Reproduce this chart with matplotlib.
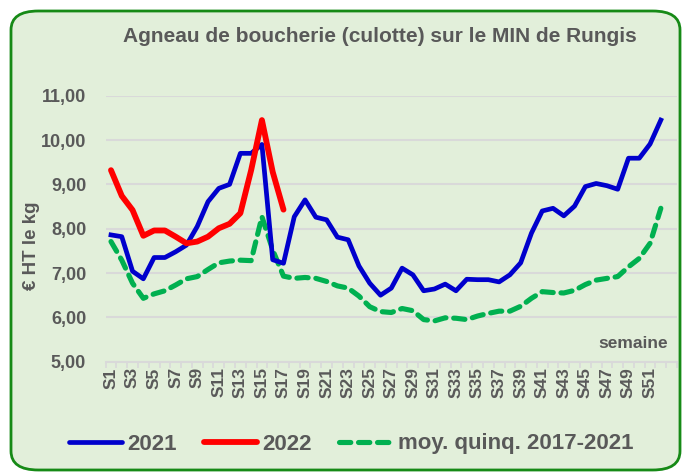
import matplotlib
matplotlib.use("Agg")
import matplotlib.pyplot as plt
from matplotlib.patches import FancyBboxPatch
from matplotlib.lines import Line2D
import numpy as np

plt.rcParams['font.family'] = ['Liberation Sans', 'DejaVu Sans']

weeks = [f"S{i}" for i in range(1, 53)]

avg_2021 = [7.86, 7.82, 7.04, 6.87, 7.35, 7.35, 7.48, 7.63, 8.05, 8.61,
            8.91, 9.00, 9.70, 9.70, 9.90, 7.30, 7.22, 8.27, 8.65, 8.26,
            8.20, 7.81, 7.75, 7.16, 6.77, 6.50, 6.66, 7.11, 6.96, 6.60,
            6.64, 6.75, 6.60, 6.86, 6.85, 6.85, 6.80, 6.96, 7.23, 7.90,
            8.40, 8.46, 8.29, 8.51, 8.95, 9.02, 8.97, 8.89, 9.59, 9.59,
            9.91, 10.45]

avg_2022 = [9.32, 8.74, 8.42, 7.84, 7.96, 7.96, 7.82, 7.67, 7.71, 7.82,
            8.01, 8.11, 8.35, 9.32, 10.45, 9.28, 8.43]

avg_5y = [7.71, 7.29, 6.77, 6.43, 6.53, 6.60, 6.73, 6.87, 6.92, 7.08,
          7.23, 7.27, 7.29, 7.28, 8.27, 7.52, 6.93, 6.88, 6.90, 6.88,
          6.81, 6.71, 6.66, 6.48, 6.24, 6.13, 6.11, 6.20, 6.15, 5.95,
          5.92, 5.99, 5.98, 5.95, 6.03, 6.09, 6.14, 6.14, 6.25, 6.43,
          6.58, 6.56, 6.55, 6.61, 6.74, 6.84, 6.88, 6.92, 7.14, 7.33,
          7.67, 8.46]

yticks = [5, 6, 7, 8, 9, 10, 11]

W, H = 683, 472
fig = plt.figure(figsize=(W / 100, H / 100), dpi=100)
fig.patch.set_facecolor('white')

bg = '#E2EFDA'
box = FancyBboxPatch((11 / W, 2 / H), (669 / W), (459 / H),
                     boxstyle="round,pad=0,rounding_size=0.04",
                     transform=fig.transFigure, facecolor=bg,
                     edgecolor='#168A16', linewidth=2.0, zorder=-5)
fig.patches.append(box)

ax = fig.add_axes([105.6 / W, 1 - 361.7 / H, (677 - 105.6) / W, (361.7 - 95.7) / H])
ax.set_facecolor('none')
ax.set_zorder(2)

x = np.arange(len(weeks))
ax.plot(x, avg_5y, color='#00B050', lw=3.7, ls=(0, (2.2, 1.5)), zorder=3,
        solid_capstyle='round', dash_capstyle='round')
ax.plot(x, avg_2021, color='#0000CC', lw=3.4, zorder=4, solid_joinstyle='round')
ax.plot(x[:len(avg_2022)], avg_2022, color='#FF0000', lw=4.2, zorder=5,
        solid_joinstyle='round', solid_capstyle='round')

ax.set_ylim(5, 11)
ax.set_xlim(-0.5, 52.5)
ax.set_yticks(yticks)
ax.set_yticklabels([f"{v:.2f}".replace('.', ',') for v in yticks],
                   fontsize=13, fontweight='bold', color='#595959')
ax.tick_params(axis='y', length=0, pad=14)
ax.grid(axis='y', color='#D9D9D9', lw=1.5, zorder=1)
ax.set_axisbelow(True)

ax.set_xticks(x[::2])
ax.set_xticklabels(weeks[::2], rotation=90, fontsize=12.5, fontweight='bold',
                   color='#595959')
ax.set_xticks(np.arange(-0.5, 53, 1), minor=True)
ax.tick_params(axis='x', which='major', length=0, pad=4)
ax.tick_params(axis='x', which='minor', length=4, color='#D9D9D9', width=1.2)

for s in ['top', 'right', 'left']:
    ax.spines[s].set_visible(False)
ax.spines['bottom'].set_color('#D9D9D9')
ax.spines['bottom'].set_linewidth(1.5)

fig.text(31 / W, 1 - 246 / H, "€ HT le kg", rotation=90, ha='center', va='center',
         fontsize=13.5, fontweight='bold', color='#595959')
fig.text(668 / W, 1 - 343 / H, "semaine", ha='right', va='center',
         fontsize=12.5, fontweight='bold', color='#595959')
fig.text(380 / W, 1 - 37 / H, "Agneau de boucherie (culotte) sur le MIN de Rungis",
         ha='center', va='center', fontsize=15, fontweight='bold', color='#595959')

handles = [Line2D([], [], color='#0000CC', lw=3.4, solid_capstyle='round'),
           Line2D([], [], color='#FF0000', lw=4.2, solid_capstyle='round'),
           Line2D([], [], color='#00B050', lw=3.7, ls=(0, (2.2, 1.5)), dash_capstyle='round')]
labels = ['2021', '2022', 'moy. quinq. 2017-2021']
leg = fig.legend(handles, labels, loc='center', bbox_to_anchor=(351 / W, 1 - 444 / H),
                 ncol=3, frameon=False, handlelength=2.4, handletextpad=0.25,
                 columnspacing=1.2, prop={'size': 16, 'weight': 'bold'})
for t in leg.get_texts():
    t.set_color('#595959')

fig.savefig('out.png', dpi=100, facecolor='white')
